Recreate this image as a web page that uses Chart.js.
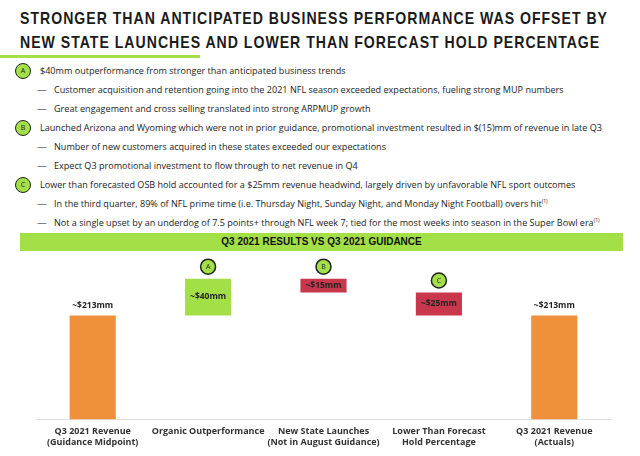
<!DOCTYPE html>
<html>
<head>
<meta charset="utf-8">
<script src="https://cdn.jsdelivr.net/npm/chart.js@4"></script>
<style>
  body { margin: 0; width: 640px; height: 456px; background: #fff; position: relative; overflow: hidden; font-family: "Open Sans", sans-serif; color: #222; }
  h1 { position: absolute; left: 20px; top: 7px; margin: 0; font-family: "Liberation Sans", Arial, sans-serif; font-weight: 700; font-size: 17px; line-height: 24px; letter-spacing: 1.2px; color: #1b1b1b; white-space: nowrap; transform-origin: 0 0; }
  #rule { position: absolute; left: 0; top: 55px; width: 200px; height: 3px; background: #a3e048; }
  .row { position: absolute; left: 0; font-size: 9.8px; white-space: nowrap; line-height: 12px; color: #222; }
  .row .dot { position: absolute; left: 15px; top: -2px; width: 14px; height: 14px; border: 1.5px solid #222; border-radius: 50%; background: #a3e048; font-size: 7px; text-align: center; line-height: 14px; }
  .row .dash { position: absolute; left: 37px; top: 0; }
  .row .txt { position: absolute; top: 0; transform-origin: 0 50%; }
  sup { font-size: 5.5px; vertical-align: 4px; line-height: 0; }
  #band { position: absolute; left: 20px; top: 233px; width: 603px; height: 18px; background: #a3e048; text-align: center; font: bold 10px "Liberation Sans", Arial, sans-serif; line-height: 18px; color: #111; }
  #wrap { position: absolute; left: 0; top: 252px; width: 640px; height: 204px; }
</style>
</head>
<body>
<h1 id="title"><span id="t1">STRONGER THAN ANTICIPATED BUSINESS PERFORMANCE WAS OFFSET BY</span><br>NEW STATE LAUNCHES AND LOWER THAN FORECAST HOLD PERCENTAGE</h1>
<div id="rule"></div>
<div id="bullets"></div>
<div id="band">Q3 2021 RESULTS VS Q3 2021 GUIDANCE</div>
<div id="wrap"><canvas id="chart"></canvas></div>
<script>
// 說明文字
const BULLETS = [
  ['A', '$40mm outperformance from stronger than anticipated business trends'],
  ['-', 'Customer acquisition and retention going into the 2021 NFL season exceeded expectations, fueling strong MUP numbers'],
  ['-', 'Great engagement and cross selling translated into strong ARPMUP growth'],
  ['B', 'Launched Arizona and Wyoming which were not in prior guidance, promotional investment resulted in $(15)mm of revenue in late Q3'],
  ['-', 'Number of new customers acquired in these states exceeded our expectations'],
  ['-', 'Expect Q3 promotional investment to flow through to net revenue in Q4'],
  ['C', 'Lower than forecasted OSB hold accounted for a $25mm revenue headwind, largely driven by unfavorable NFL sport outcomes'],
  ['-', 'In the third quarter, 89% of NFL prime time (i.e. Thursday Night, Sunday Night, and Monday Night Football) overs hit<sup>(1)</sup>'],
  ['-', 'Not a single upset by an underdog of 7.5 points+ through NFL week 7; tied for the most weeks into season in the Super Bowl era<sup>(1)</sup>'],
];

// 瀑布圖資料
const CATEGORIES = [
  ['Q3 2021 Revenue', '(Guidance Midpoint)'],
  'Organic Outperformance',
  ['New State Launches', '(Not in August Guidance)'],
  ['Lower Than Forecast', 'Hold Percentage'],
  ['Q3 2021 Revenue', '(Actuals)'],
];
const VALUES = [213, 40, -15, -25, 213];       // 首尾為總額，中間為增減
const IS_TOTAL = [true, false, false, false, true];
const VALUE_LABELS = ['~$213mm', '~$40mm', '~$15mm', '~$25mm', '~$213mm'];
const MARKERS = ['', 'A', 'B', 'C', ''];
const AXIS_MIN = 100, AXIS_MAX = 282;

const ORANGE = '#ef903a', GREEN = '#a3e048', RED = '#c8374b';

// 標題壓縮成窄體寬度
const t = document.getElementById('title');
t.style.transform = 'scaleX(' + (588 / document.getElementById('t1').getBoundingClientRect().width) + ')';

document.getElementById('bullets').innerHTML = BULLETS.map(([k, txt], i) => {
  const y = 65 + i * 19;
  if (k === '-') return '<div class="row" style="top:' + y + 'px"><span class="dash">—</span><span class="txt" style="left:54px">' + txt + '</span></div>';
  return '<div class="row" style="top:' + y + 'px"><span class="dot">' + k + '</span><span class="txt" style="left:40px">' + txt + '</span></div>';
}).join('');
// 以 B 行寬度 (約 562px) 統一水平縮放
const spans = document.querySelectorAll('#bullets .txt');
const k = 562 / spans[3].getBoundingClientRect().width;
spans.forEach(s => s.style.transform = 'scaleX(' + k + ')');

// 累計出浮動區間
let run = 0;
const ranges = VALUES.map((v, i) => {
  if (IS_TOTAL[i]) { run = v; return [AXIS_MIN, v]; }
  const a = run; run += v;
  return [Math.min(a, run), Math.max(a, run)];
});
const colors = VALUES.map((v, i) => IS_TOTAL[i] ? ORANGE : (v >= 0 ? GREEN : RED));

const labelPlugin = {
  id: 'wfLabels',
  afterDatasetsDraw(chart) {
    const ctx = chart.ctx, meta = chart.getDatasetMeta(0);
    ctx.save();
    meta.data.forEach((bar, i) => {
      const top = Math.min(bar.y, bar.base), bot = Math.max(bar.y, bar.base);
      ctx.fillStyle = '#222';
      ctx.font = 'bold 8.5px "Open Sans", sans-serif';
      ctx.textAlign = 'center';
      ctx.textBaseline = 'middle';
      if (IS_TOTAL[i]) ctx.fillText(VALUE_LABELS[i], bar.x, top - 10);
      else ctx.fillText(VALUE_LABELS[i], bar.x, (top + bot) / 2);
      if (MARKERS[i]) {
        const cy = top - 12;
        ctx.beginPath();
        ctx.arc(bar.x, cy, 7.5, 0, Math.PI * 2);
        ctx.fillStyle = GREEN; ctx.fill();
        ctx.lineWidth = 1.5; ctx.strokeStyle = '#222'; ctx.stroke();
        ctx.fillStyle = '#222';
        ctx.font = '7px "Open Sans", sans-serif';
        ctx.fillText(MARKERS[i], bar.x, cy + 0.5);
      }
    });
    ctx.restore();
  }
};

new Chart(document.getElementById('chart'), {
  type: 'bar',
  data: {
    labels: CATEGORIES,
    datasets: [{ data: ranges, backgroundColor: colors, barPercentage: 0.4, categoryPercentage: 1 }],
  },
  options: {
    responsive: true, maintainAspectRatio: false, animation: false,
    layout: { padding: { left: 35, right: 28, top: 0, bottom: 9 } },
    plugins: { legend: { display: false }, tooltip: { enabled: false } },
    scales: {
      x: {
        grid: { display: false },
        border: { color: '#e2e2e2', width: 1 },
        ticks: { color: '#333', padding: -1, maxRotation: 0, autoSkip: false, font: { family: '"Open Sans", sans-serif', size: 9, weight: 'bold', lineHeight: 1.2 } },
      },
      y: { display: false, min: AXIS_MIN, max: AXIS_MAX },
    },
  },
  plugins: [labelPlugin],
});
</script>
</body>
</html>
